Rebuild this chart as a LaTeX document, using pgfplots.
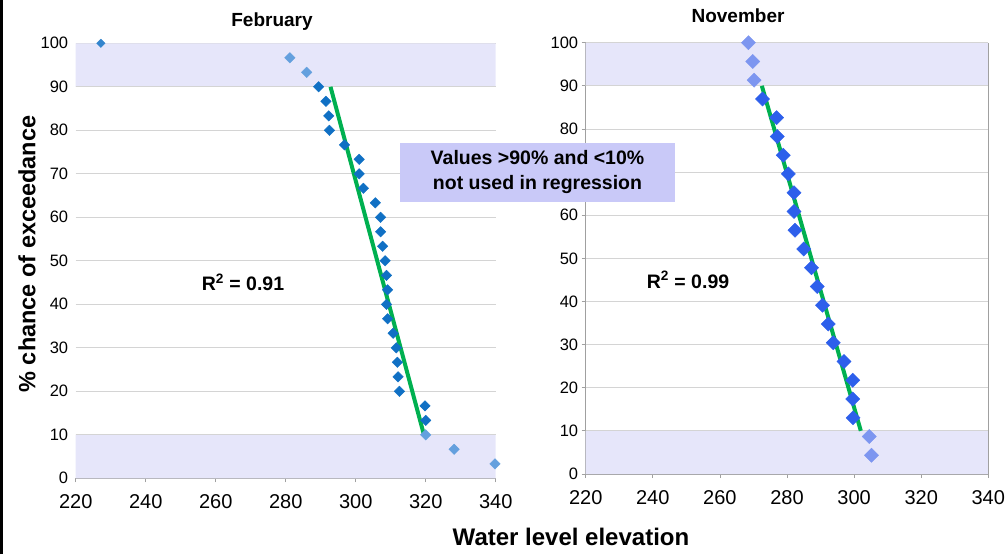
\documentclass[border=0pt]{standalone}
\usepackage{pgfplots}
\pgfplotsset{compat=1.18}
\usepackage{fontspec}
\setmainfont{Liberation Sans}
\definecolor{band}{RGB}{230,230,250}
\definecolor{boxc}{RGB}{201,201,248}
\definecolor{gridc}{RGB}{212,212,212}
\definecolor{axc}{RGB}{160,160,160}
\definecolor{ldark}{RGB}{16,112,196}
\definecolor{llight}{RGB}{100,160,222}
\definecolor{rdark}{RGB}{45,95,235}
\definecolor{rlight}{RGB}{125,150,240}
\definecolor{fitg}{RGB}{0,176,80}
\pgfplotsset{
  chart/.style={
    scale only axis, clip=false,
    xmin=220, xmax=340, ymin=0, ymax=100,
    xtick={220,240,...,340}, ytick={0,10,...,100},
    ymajorgrids, grid style={gridc, line width=0.9pt},
    tick align=outside, major tick length=4pt,
    tick style={axc, line width=0.8pt},
    /pgf/number format/assume math mode=true,
    xticklabel style={font=\fontsize{20}{22}\selectfont},
    xticklabel shift=9pt,
    yticklabel style={font=\fontsize{16.5}{18}\selectfont},
    axis x line*=bottom, axis y line*=left,
    x axis line style={-, axc, line width=0.9pt},
    y axis line style={-, axc, line width=0.9pt},
  }
}
\begin{document}
\begin{tikzpicture}
\useasboundingbox (0pt,0pt) rectangle (1006pt,554pt);
\draw[black, line width=2.6pt] (1.3pt,0pt) -- (1.3pt,554pt);
% February
\begin{axis}[chart, at={(75.7pt,75.7pt)}, anchor=south west, width=420pt, height=435pt,
  y axis line style={draw=none}, ytick style={draw=none}]
\addplot[fill=band, draw=none] coordinates {(220,90) (340,90) (340,100) (220,100) (220,90)};
\addplot[fill=band, draw=none] coordinates {(220,0) (340,0) (340,10) (220,10) (220,0)};
\addplot[gridc, line width=0.9pt] coordinates {(220,90) (340,90)};
\addplot[gridc, line width=0.9pt] coordinates {(220,10) (340,10)};
\addplot[only marks, mark=square*, mark size=3.7pt, mark options={rotate=45, fill=llight, draw=llight}] coordinates {
(281.2,96.67) (286.0,93.33) (320.0,10) (328.1,6.67) (339.8,3.33)};
\addplot[only marks, mark=square*, mark size=3.7pt, mark options={rotate=45, fill=ldark, draw=ldark}] coordinates {
(289.4,90) (291.5,86.67) (292.3,83.33) (292.5,80) (296.8,76.67)
(301.0,73.33) (301.0,70) (302.2,66.67) (305.6,63.33) (307.1,60) (307.1,56.67)
(307.7,53.33) (308.4,50) (308.8,46.67) (309.1,43.33) (308.8,40) (309.1,36.67)
(310.7,33.33) (311.6,30) (311.9,26.67) (312.1,23.33) (312.5,20) (319.8,16.67) (320.0,13.33)};
\addplot[only marks, mark=square*, mark size=3pt, mark options={rotate=45, fill=ldark!85!white, draw=ldark!85!white}] coordinates {(227.2,100)};
\addplot[fitg, line width=4pt] coordinates {(292.8,90) (319.5,10)};
\node[font=\fontsize{19.5}{22}\selectfont\bfseries] at (axis cs:267.8,45) {R\textsuperscript{2} = 0.91};
\end{axis}
% November
\begin{axis}[chart, at={(585.7pt,80pt)}, anchor=south west, width=402.6pt, height=431.3pt,
  yticklabels={0,10,20,30,40,50,60,,80,90,100}]
\addplot[fill=band, draw=none] coordinates {(220,90) (340,90) (340,100) (220,100) (220,90)};
\addplot[fill=band, draw=none] coordinates {(220,0) (340,0) (340,10) (220,10) (220,0)};
\addplot[gridc, line width=0.9pt] coordinates {(220,90) (340,90)};
\addplot[gridc, line width=0.9pt] coordinates {(220,10) (340,10)};
\addplot[gridc, line width=0.9pt] coordinates {(220,100) (340,100)};
\addplot[axc, line width=0.9pt] coordinates {(340,0) (340,100)};
\addplot[only marks, mark=square*, mark size=5pt, mark options={rotate=45, fill=rlight, draw=rlight}] coordinates {
(268.5,100) (269.8,95.65) (270.2,91.30) (304.5,8.70) (305.2,4.35)};
\addplot[only marks, mark=square*, mark size=5pt, mark options={rotate=45, fill=rdark, draw=rdark}] coordinates {
(272.7,86.96) (276.9,82.61) (277.1,78.26) (278.9,73.91) (280.4,69.57) (282.1,65.22)
(282.1,60.87) (282.4,56.52) (285.0,52.17) (287.3,47.83) (289.0,43.48) (290.6,39.13)
(292.3,34.78) (293.8,30.43) (297.0,26.09) (299.6,21.74) (299.6,17.39) (299.7,13.04)};
\addplot[fitg, line width=4pt] coordinates {(272.5,90) (302,10)};
\node[font=\fontsize{19.5}{22}\selectfont\bfseries] at (axis cs:250.5,45) {R\textsuperscript{2} = 0.99};
\end{axis}
% titles and labels
\node[anchor=base, font=\fontsize{19}{22}\selectfont\bfseries] at (272pt,527pt) {February};
\node[anchor=base, font=\fontsize{19}{22}\selectfont\bfseries] at (738pt,531.3pt) {November};
\node[rotate=90, font=\fontsize{23.5}{26}\selectfont\bfseries] at (27pt,300pt) {\% chance of exceedance};
\node[anchor=base, font=\fontsize{24}{26}\selectfont\bfseries] at (571pt,9pt) {Water level elevation};
\node[fill=boxc, minimum width=275pt, minimum height=59pt, align=center,
  font=\fontsize{19.5}{25}\selectfont\bfseries] at (537.5pt,381.8pt)
  {Values >90\% and <10\%\\not used in regression};
\end{tikzpicture}
\end{document}
